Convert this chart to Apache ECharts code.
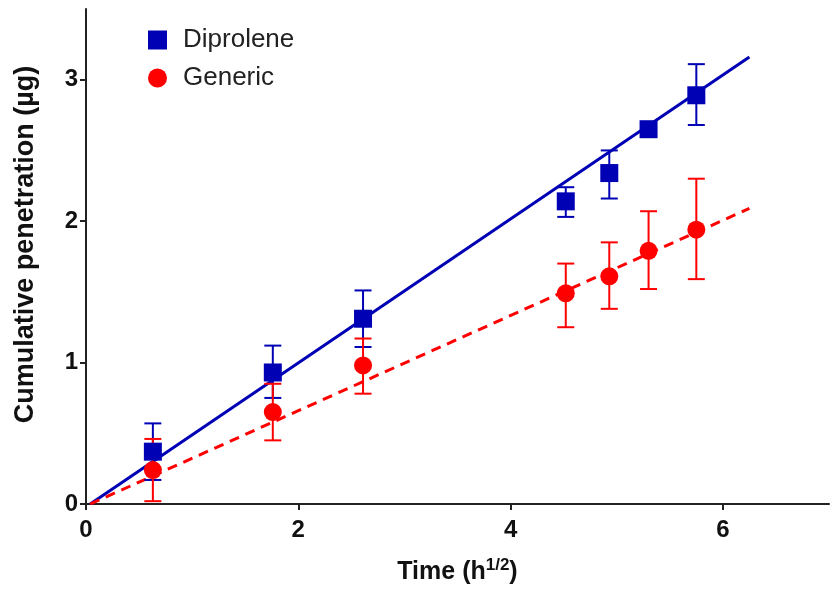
<!DOCTYPE html>
<html>
<head>
<meta charset="utf-8">
<script src="https://cdn.jsdelivr.net/npm/echarts@6/dist/echarts.min.js"></script>
<style>
  html, body { margin: 0; padding: 0; background: #fff; }
  #chart { width: 837px; height: 591px; }
</style>
</head>
<body>
<div id="chart"></div>
<script>
// time points (h^1/2)
const timeX = [0.63, 1.76, 2.61, 4.52, 4.93, 5.30, 5.75];
// Diprolene mean and error bar ends
const diproMean = [0.37, 0.93, 1.31, 2.14, 2.34, 2.65, 2.89];
const diproLow = [0.17, 0.75, 1.11, 2.03, 2.16, 2.62, 2.68];
const diproHigh = [0.57, 1.12, 1.51, 2.24, 2.50, 2.68, 3.11];
// Generic mean and error bar ends
const genMean = [0.24, 0.65, 0.98, 1.49, 1.61, 1.79, 1.94];
const genLow = [0.02, 0.45, 0.78, 1.25, 1.38, 1.52, 1.59];
const genHigh = [0.46, 0.85, 1.17, 1.70, 1.85, 2.07, 2.30];
// regression lines (start / end points)
const diproFit = [[0.04, 0], [6.25, 3.16]];
const genFit = [[0.04, 0], [6.25, 2.09]];
// axis ticks
const xTicks = [0, 2, 4, 6];
const yTicks = [0, 1, 2, 3];

const BLUE = "#0000b4";
const RED = "#ff0000";
const FONT = "Liberation Sans, Arial";

function pairs(xs, ys) {
  return xs.map((x, i) => [x, ys[i]]);
}

// error bar custom series
function errorBars(low, high, color) {
  const data = timeX.map((x, i) => [x, low[i], high[i]]);
  return {
    type: "custom",
    data: data,
    z: 3,
    silent: true,
    renderItem: function (params, api) {
      const lo = api.coord([api.value(0), api.value(1)]);
      const hi = api.coord([api.value(0), api.value(2)]);
      const half = 8.5;
      const style = { stroke: color, lineWidth: 2 };
      return {
        type: "group",
        children: [
          { type: "line", shape: { x1: hi[0], y1: hi[1], x2: lo[0], y2: lo[1] }, style: style },
          { type: "line", shape: { x1: hi[0] - half, y1: hi[1], x2: hi[0] + half, y2: hi[1] }, style: style },
          { type: "line", shape: { x1: lo[0] - half, y1: lo[1], x2: lo[0] + half, y2: lo[1] }, style: style },
        ],
      };
    },
  };
}

const chart = echarts.init(document.getElementById("chart"));

const option = {
  animation: false,
  backgroundColor: "#fff",
  grid: { left: 86, right: 8, top: 9, bottom: 87 },
  legend: {
    left: 143,
    top: 22,
    orient: "vertical",
    itemWidth: 19,
    itemHeight: 19,
    itemGap: 12,
    textStyle: { fontFamily: FONT, fontSize: 26, color: "#222", padding: [0, 0, 0, 11] },
    data: [
      { name: "Diprolene", icon: "rect" },
      { name: "Generic", icon: "circle" },
    ],
  },
  xAxis: {
    type: "value",
    min: 0,
    max: 7,
    interval: 2,
    name: "Time (h{sup|1/2})",
    nameLocation: "middle",
    nameGap: 53,
    nameTextStyle: {
      fontFamily: FONT,
      fontSize: 25,
      fontWeight: "bold",
      color: "#111",
      rich: {
        sup: { fontSize: 17, fontWeight: "bold", verticalAlign: "top", padding: [0, 0, 14, 0], fontFamily: FONT, color: "#111" },
      },
    },
    splitLine: { show: false },
    axisLine: { show: true, onZero: false, lineStyle: { color: "#222", width: 2 } },
    axisTick: { show: true, length: 6, customValues: xTicks, lineStyle: { color: "#222", width: 2 } },
    axisLabel: {
      fontFamily: FONT,
      fontSize: 24,
      fontWeight: "bold",
      color: "#111",
      margin: 14,
      customValues: xTicks,
    },
  },
  yAxis: {
    type: "value",
    min: 0,
    max: 3.5,
    interval: 1,
    name: "Cumulative penetration (µg)",
    nameLocation: "middle",
    nameGap: 47,
    nameTextStyle: {
      fontFamily: FONT,
      fontSize: 27,
      fontWeight: "bold",
      color: "#111",
      padding: [0, 0, 0, 24],
    },
    splitLine: { show: false },
    axisLine: { show: true, onZero: false, lineStyle: { color: "#222", width: 2 } },
    axisTick: { show: true, length: 6, customValues: yTicks, lineStyle: { color: "#222", width: 2 } },
    axisLabel: {
      fontFamily: FONT,
      fontSize: 24,
      fontWeight: "bold",
      color: "#111",
      margin: 8,
      customValues: yTicks,
    },
  },
  series: [
    {
      name: "DiproleneFit",
      type: "line",
      data: diproFit,
      symbol: "none",
      lineStyle: { color: BLUE, width: 3 },
      z: 2,
      silent: true,
    },
    {
      name: "GenericFit",
      type: "line",
      data: genFit,
      symbol: "none",
      lineStyle: { color: RED, width: 3, type: [10, 7] },
      z: 2,
      silent: true,
    },
    errorBars(diproLow, diproHigh, BLUE),
    errorBars(genLow, genHigh, RED),
    {
      name: "Generic",
      type: "scatter",
      data: pairs(timeX, genMean),
      symbol: "circle",
      symbolSize: 18,
      itemStyle: { color: RED, opacity: 1 },
      z: 4,
    },
    {
      name: "Diprolene",
      type: "scatter",
      data: pairs(timeX, diproMean),
      symbol: "rect",
      symbolSize: 18,
      itemStyle: { color: BLUE, opacity: 1 },
      z: 5,
    },
  ],
};

chart.setOption(option);
</script>
</body>
</html>
